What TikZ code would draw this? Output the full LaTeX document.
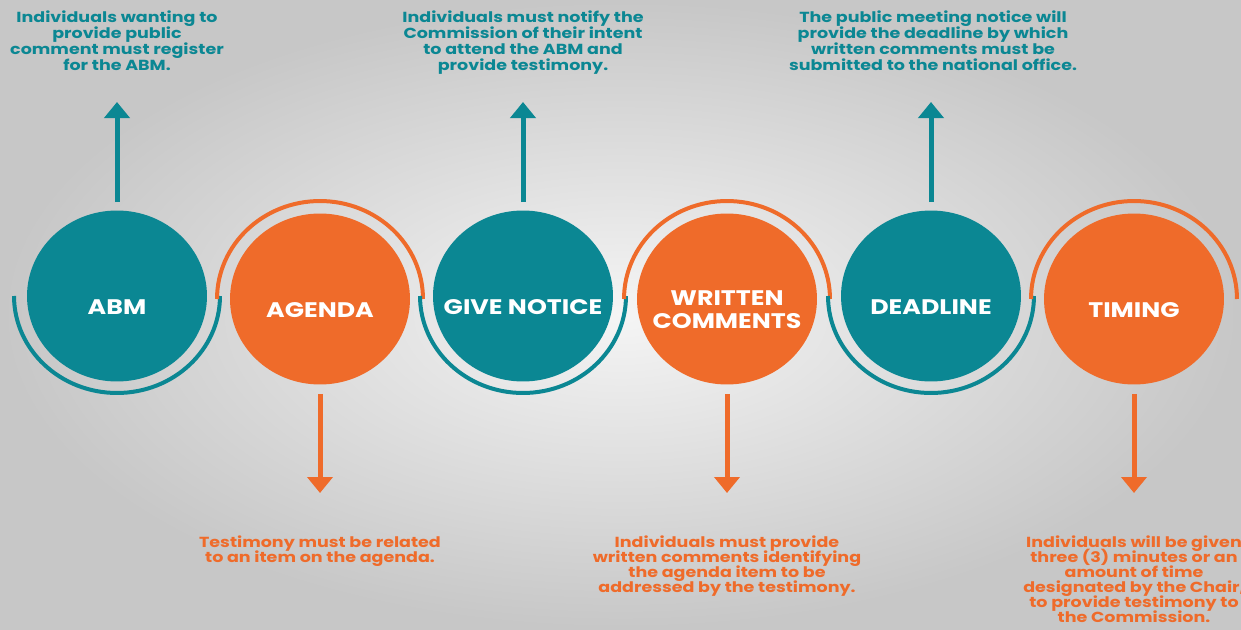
\documentclass[tikz,border=0pt]{standalone}
\usepackage{fontspec}
\setmainfont{Poppins}[FakeStretch=1.2]
\usetikzlibrary{arrows.meta,shapes.geometric}
\definecolor{tealc}{HTML}{0B8793}
\definecolor{orangec}{HTML}{EF6B2A}
\newcommand\notefont{\bfseries\fontsize{8.3}{9.1}\selectfont\lineskiplimit=-5pt\relax}
\newcommand\lownotefont{\bfseries\fontsize{8.3}{8.55}\selectfont\lineskiplimit=-5pt\relax}

\begin{document}
\begin{tikzpicture}[x=0.02cm,y=0.02cm,line cap=butt,
  dot/.style={ellipse,minimum width=3.6cm,minimum height=3.42cm,inner sep=0pt},
  dottext/.style={text=white,align=center,yshift=-0.22cm,font=\bfseries\fontsize{12}{13}\selectfont},
  note/.style={align=center,anchor=north,inner sep=0pt,font=\notefont},
  lownote/.style={note,font=\lownotefont},
  ring/.style={line width=0.08cm},
  uparrow/.style={tealc,line width=0.1cm,-{Triangle[length=0.32cm,width=0.5cm]}},
  downarrow/.style={orangec,line width=0.1cm,-{Triangle[length=0.32cm,width=0.5cm]}}]
\shade[inner color=white!96!black,outer color=black!22] (0,0) rectangle (1241,-629);
\useasboundingbox (0,0) rectangle (1241,-629);

% circles
\node[dot,fill=tealc,label={[dottext]center:ABM}] (abm) at (117,-296) {};
\node[dot,fill=orangec,label={[dottext]center:AGENDA}] (agenda) at (320,-299) {};
\node[dot,fill=tealc,label={[dottext]center:GIVE NOTICE}] (notice) at (523,-296) {};
\node[dot,fill=orangec,label={[dottext]center:WRITTEN\\COMMENTS}] (written) at (727,-299) {};
\node[dot,fill=tealc,label={[dottext]center:DEADLINE}] (deadline) at (931,-296) {};
\node[dot,fill=orangec,label={[dottext]center:TIMING}] (timing) at (1134,-299) {};

% half rings
\draw[ring,tealc] ([xshift=-2.06cm]abm.center) arc[start angle=180,end angle=360,x radius=2.06cm,y radius=1.94cm];
\draw[ring,orangec] ([xshift=-2.06cm]agenda.center) arc[start angle=180,end angle=0,x radius=2.06cm,y radius=1.96cm];
\draw[ring,tealc] ([xshift=-2.06cm]notice.center) arc[start angle=180,end angle=360,x radius=2.06cm,y radius=1.94cm];
\draw[ring,orangec] ([xshift=-2.06cm]written.center) arc[start angle=180,end angle=0,x radius=2.06cm,y radius=1.96cm];
\draw[ring,tealc] ([xshift=-2.06cm]deadline.center) arc[start angle=180,end angle=360,x radius=2.06cm,y radius=1.94cm];
\draw[ring,orangec] ([xshift=-2.06cm]timing.center) arc[start angle=180,end angle=0,x radius=2.06cm,y radius=1.96cm];

% notes
\node[note,text=tealc] (abmnote) at (117,-10) {Individuals wanting to\\provide public\\comment must register\\for the ABM.};
\node[note,text=tealc] (noticenote) at (523,-10) {Individuals must notify the\\Commission of their intent\\to attend the ABM and\\provide testimony.};
\node[note,text=tealc] (deadlinenote) at (933,-10) {The public meeting notice will\\provide the deadline by which\\written comments must be\\submitted to the national office.};
\node[lownote,text=orangec] (agendanote) at (320,-535) {Testimony must be related\\to an item on the agenda.};
\node[lownote,text=orangec] (writtennote) at (727,-535) {Individuals must provide\\written comments identifying\\the agenda item to be\\addressed by the testimony.};
\node[lownote,text=orangec] (timingnote) at (1134,-535) {Individuals will be given\\three (3) minutes or an\\amount of time\\designated by the Chair,\\to provide testimony to\\the Commission.};

% arrow tips
\coordinate (abmtip) at (117,-102);
\coordinate (noticetip) at (523,-102);
\coordinate (deadlinetip) at (931,-102);
\coordinate (agendatip) at (320,-493);
\coordinate (writtentip) at (727,-493);
\coordinate (timingtip) at (1134,-493);

% arrows
\draw[uparrow] ([yshift=0.16cm]abm.north) -- (abmtip);
\draw[uparrow] ([yshift=0.16cm]notice.north) -- (noticetip);
\draw[uparrow] ([yshift=0.16cm]deadline.north) -- (deadlinetip);
\draw[downarrow] ([yshift=-0.18cm]agenda.south) -- (agendatip);
\draw[downarrow] ([yshift=-0.18cm]written.south) -- (writtentip);
\draw[downarrow] ([yshift=-0.18cm]timing.south) -- (timingtip);
\end{tikzpicture}
\end{document}
